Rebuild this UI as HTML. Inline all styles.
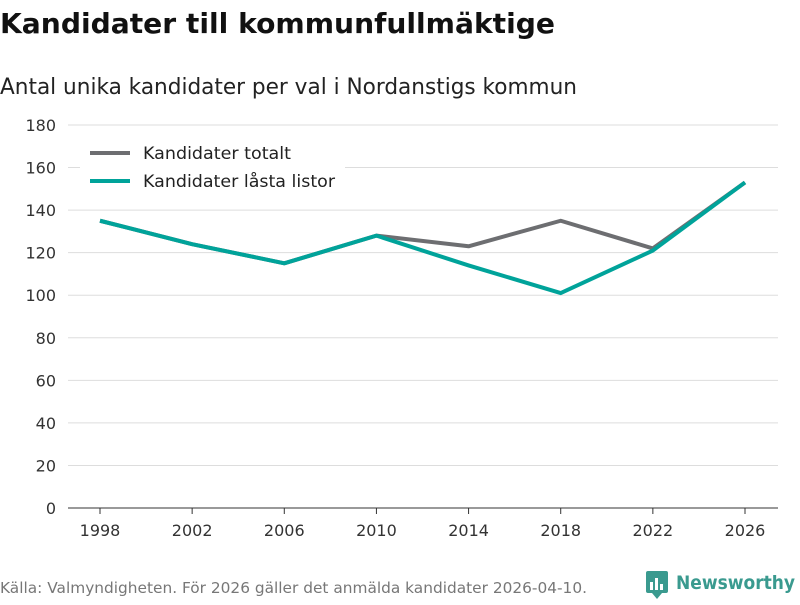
<!DOCTYPE html>
<html><head><meta charset="utf-8"><style>
body{margin:0;background:#fff;}
svg text{font-family:"DejaVu Sans","Liberation Sans",sans-serif;}
</style></head><body>
<svg width="800" height="600" xmlns="http://www.w3.org/2000/svg">
<text x="0" y="33" font-size="28" font-weight="bold" fill="#111" textLength="555" lengthAdjust="spacingAndGlyphs">Kandidater till kommunfullmäktige</text>
<text x="0" y="94" font-size="22" fill="#222" textLength="577" lengthAdjust="spacingAndGlyphs">Antal unika kandidater per val i Nordanstigs kommun</text>
<g id="grid"></g>
<g id="yt"></g>
<g id="xt"></g>
<g id="lines"></g>
<g>
<rect x="80" y="138" width="265" height="62" fill="#fff"/>
<line x1="90" y1="153" x2="130" y2="153" stroke="#6d6e71" stroke-width="4"/>
<text x="143" y="159" font-size="17" fill="#222" textLength="148" lengthAdjust="spacingAndGlyphs">Kandidater totalt</text>
<line x1="90" y1="181" x2="130" y2="181" stroke="#00a39a" stroke-width="4"/>
<text x="143" y="187" font-size="17" fill="#222" textLength="192" lengthAdjust="spacingAndGlyphs">Kandidater låsta listor</text>
</g>
<text x="0" y="593" font-size="15" fill="#777" textLength="587" lengthAdjust="spacingAndGlyphs">Källa: Valmyndigheten. För 2026 gäller det anmälda kandidater 2026-04-10.</text>
<g>
<rect x="646" y="571" width="22" height="22" rx="2" fill="#3a9a8f"/>
<polygon points="652,593 662,593 657,599" fill="#3a9a8f"/>
<rect x="650" y="582" width="3" height="8" fill="#fff"/><rect x="655" y="578" width="3" height="12" fill="#fff"/><rect x="660" y="584" width="3" height="6" fill="#fff"/>
<text x="676" y="589" font-size="19" font-weight="bold" fill="#3a9a8f" textLength="119" lengthAdjust="spacingAndGlyphs">Newsworthy</text>
</g>
</svg>
<script>
const years=[1998,2002,2006,2010,2014,2018,2022,2026];
const totalt=[135,124,115,128,123,135,122,153];
const lasta=[135,124,115,128,114,101,121,153];
const yTicks=[0,20,40,60,80,100,120,140,160,180];
const NS="http://www.w3.org/2000/svg";
const x=v=>100+(v-1998)*(645/28);
const y=v=>508-v*(383/180);
function mk(tag,attrs,parent){const e=document.createElementNS(NS,tag);for(const k in attrs)e.setAttribute(k,attrs[k]);parent.appendChild(e);return e;}
const grid=document.getElementById('grid'),yt=document.getElementById('yt'),xt=document.getElementById('xt'),lines=document.getElementById('lines');
yTicks.forEach(t=>{
 const l=mk('line',{x1:68,x2:778,y1:y(t),y2:y(t),stroke:t===0?'#333':'#ddd','stroke-width':1},grid);
 
 
 const tx=mk('text',{x:56,y:y(t)+6,'font-size':16,fill:'#333','text-anchor':'end'},yt);
 tx.textContent=t;
 
 
});
years.forEach(yr=>{
 const l=mk('line',{x1:x(yr),x2:x(yr),y1:508,y2:514,stroke:'#333'},xt);
 
 
 const tx=mk('text',{x:x(yr),y:536,'font-size':16,fill:'#333','text-anchor':'middle'},xt);
 tx.textContent=yr;
 
 
});
function series(vals,color,name){
 const p=mk('polyline',{points:vals.map((v,i)=>x(years[i])+','+y(v)).join(' '),fill:'none',stroke:color,'stroke-width':4,'stroke-linejoin':'round'},lines);
 
 
}
series(totalt,'#6d6e71','line-kandidater-totalt');
series(lasta,'#00a39a','line-kandidater-lasta-listor');
</script>
</body></html>
